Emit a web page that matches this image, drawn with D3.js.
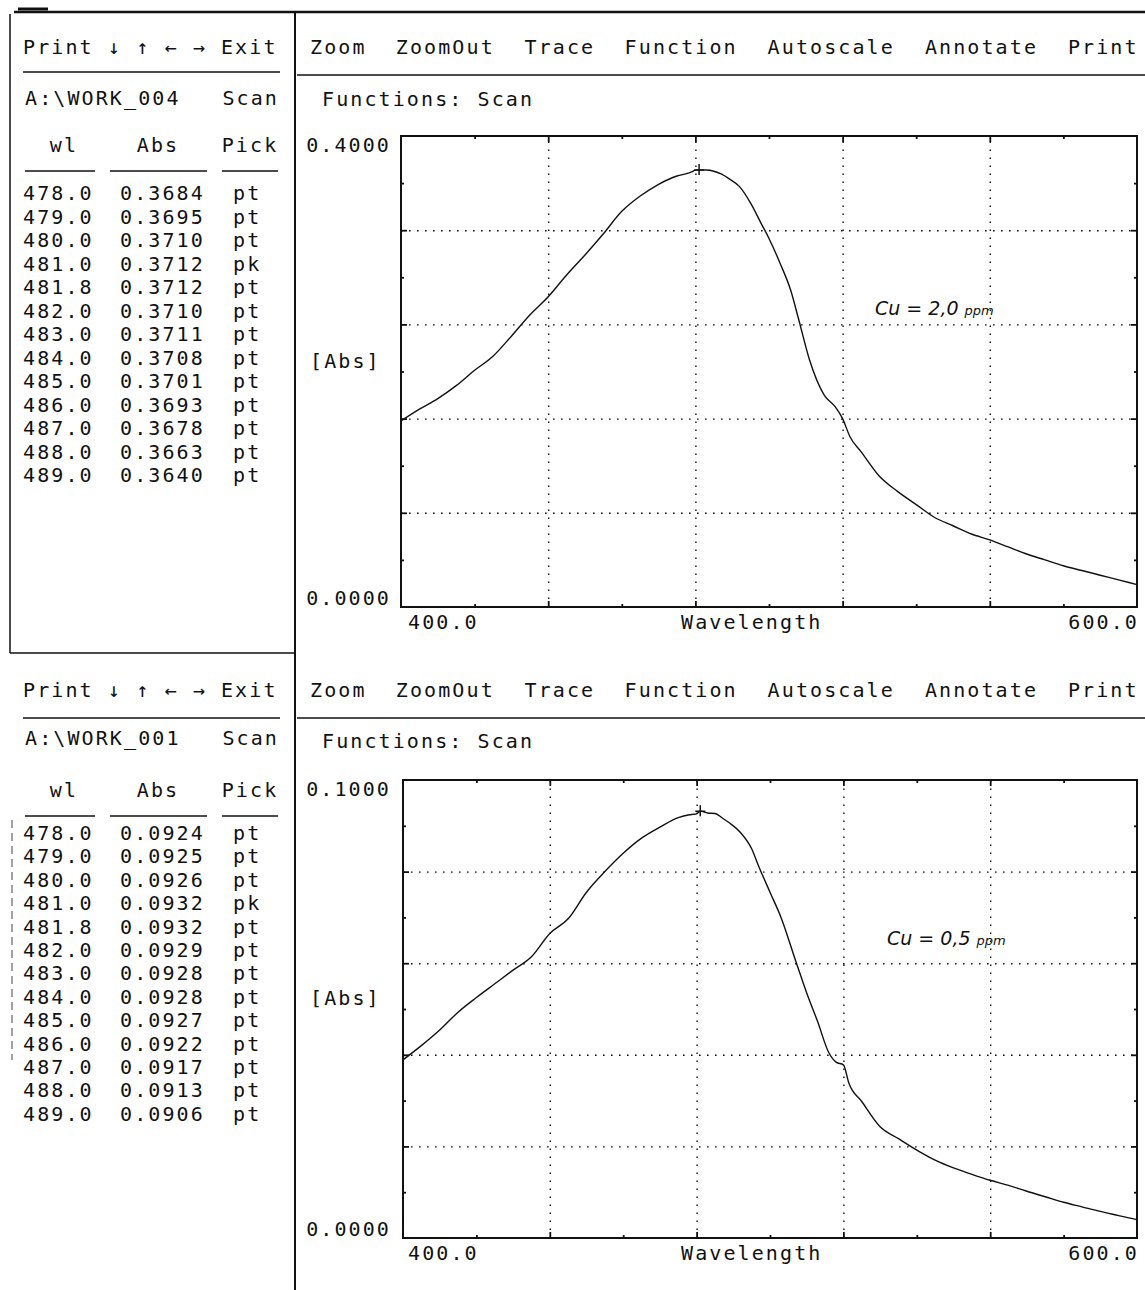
<!DOCTYPE html>
<html>
<head>
<meta charset="utf-8">
<script src="https://cdn.jsdelivr.net/npm/d3@7"></script>
<style>
  html, body { margin: 0; padding: 0; background: #fff; }
  svg { display: block; }
  text { font-family: "DejaVu Sans Mono", "Liberation Mono", monospace; fill: #111; white-space: pre; }
</style>
</head>
<body>
<svg id="chart" width="1145" height="1290"></svg>
<script>
// ---------- DATA ----------
const menuItems = ["Zoom", "ZoomOut", "Trace", "Function", "Autoscale", "Annotate", "Print"];
const navLabel = "Print ↓ ↑ ← → Exit";
const fileTop = "A:\\WORK_004";
const fileBottom = "A:\\WORK_001";
const tableHeaders = ["wl", "Abs", "Pick"];
const tableWl = ["478.0", "479.0", "480.0", "481.0", "481.8", "482.0", "483.0", "484.0", "485.0", "486.0", "487.0", "488.0", "489.0"];
const tableAbsTop = ["0.3684", "0.3695", "0.3710", "0.3712", "0.3712", "0.3710", "0.3711", "0.3708", "0.3701", "0.3693", "0.3678", "0.3663", "0.3640"];
const tableAbsBottom = ["0.0924", "0.0925", "0.0926", "0.0932", "0.0932", "0.0929", "0.0928", "0.0928", "0.0927", "0.0922", "0.0917", "0.0913", "0.0906"];
const tablePick = ["pt", "pt", "pt", "pk", "pt", "pt", "pt", "pt", "pt", "pt", "pt", "pt", "pt"];

const xDomain = [400, 600];
const xTickLabels = ["400.0", "600.0"];
const yMaxTop = 0.4, yMaxBottom = 0.1;
const yTickLabelsTop = ["0.4000", "0.0000"];
const yTickLabelsBottom = ["0.1000", "0.0000"];

// Cu = 2,0 ppm scan
const wlTop =  [400, 405, 410, 415, 420, 425, 430, 435, 440, 445, 450, 455, 460, 465, 470, 475, 478, 479, 480, 481, 483, 485, 487, 489, 492, 495, 498, 500, 503, 506, 508, 511, 515, 518, 520, 522, 525, 530, 535, 540, 545, 550, 555, 560, 565, 570, 575, 580, 585, 590, 595, 600];
const absTop = [0.158, 0.168, 0.177, 0.188, 0.201, 0.213, 0.230, 0.248, 0.2635, 0.282, 0.299, 0.317, 0.336, 0.349, 0.359, 0.366, 0.3684, 0.3695, 0.3710, 0.3712, 0.3711, 0.3701, 0.3678, 0.3640, 0.357, 0.343, 0.325, 0.313, 0.292, 0.268, 0.245, 0.210, 0.180, 0.170, 0.160, 0.1446, 0.132, 0.111, 0.098, 0.087, 0.076, 0.069, 0.062, 0.057, 0.051, 0.045, 0.040, 0.035, 0.031, 0.027, 0.023, 0.019];

// Cu = 0,5 ppm scan
const wlBottom =  [400, 405, 410, 415, 420, 425, 430, 435, 440, 445, 450, 455, 460, 465, 470, 475, 478, 479, 480, 481, 483, 485, 487, 489, 492, 495, 497, 500, 503, 507, 510, 513, 516, 518, 520, 521.5, 525, 530, 535, 540, 545, 550, 555, 560, 565, 570, 575, 580, 585, 590, 595, 600];
const absBottom = [0.0389, 0.0420, 0.0454, 0.0493, 0.0525, 0.0555, 0.0585, 0.0614, 0.0665, 0.0697, 0.0755, 0.0800, 0.0840, 0.0873, 0.0897, 0.0918, 0.0924, 0.0925, 0.0926, 0.0932, 0.0928, 0.0927, 0.0917, 0.0906, 0.0885, 0.0850, 0.0810, 0.0755, 0.0700, 0.0605, 0.0535, 0.0472, 0.0405, 0.0384, 0.0378, 0.0338, 0.0298, 0.0243, 0.0217, 0.0192, 0.0170, 0.0153, 0.0139, 0.0126, 0.0115, 0.0102, 0.0090, 0.0078, 0.0068, 0.0058, 0.0049, 0.0040];

const peakTop = {wl: 481.0, abs: 0.3712};
const peakBottom = {wl: 481.0, abs: 0.0932};
const noteTop = ["Cu = 2,0", "ppm"];
const noteBottom = ["Cu = 0,5", "ppm"];

// ---------- DRAW ----------
const svg = d3.select("#chart");
svg.append("rect").attr("width", 1145).attr("height", 1290).attr("fill", "#fff");

const FS = 20, LS = 2.1;
function txt(g, s, x, y, anchor, extra) {
  const t = g.append("text").attr("x", x).attr("y", y)
    .attr("font-size", FS).attr("letter-spacing", LS)
    .attr("text-anchor", anchor || "start").text(s);
  if (extra) extra(t);
  return t;
}
function hline(g, x1, x2, y, w) {
  g.append("line").attr("x1", x1).attr("x2", x2).attr("y1", y).attr("y2", y)
    .attr("stroke", "#111").attr("stroke-width", w || 1.5);
}

// outer frame lines
const frame = svg.append("g");
hline(frame, 14, 1145, 12, 2.5);
frame.append("line").attr("x1", 18).attr("x2", 48).attr("y1", 9).attr("y2", 9).attr("stroke", "#111").attr("stroke-width", 3);
frame.append("line").attr("x1", 10).attr("x2", 10).attr("y1", 14).attr("y2", 653).attr("stroke", "#111").attr("stroke-width", 1.5);
hline(frame, 10, 295, 653, 1.5);
frame.append("line").attr("x1", 295).attr("x2", 295).attr("y1", 12).attr("y2", 1290).attr("stroke", "#111").attr("stroke-width", 2);
frame.append("line").attr("x1", 12).attr("x2", 12).attr("y1", 820).attr("y2", 1060)
  .attr("stroke", "#444").attr("stroke-width", 1).attr("stroke-dasharray", "8,5");

function drawPanel(cfg) {
  const g = svg.append("g");
  const o = cfg.oy; // vertical offset

  // ----- left table -----
  txt(g, navLabel, 23, o + 54);
  hline(g, 23, 280, o + cfg.sep1, 1.5);
  txt(g, cfg.file, 25, o + cfg.fileY);
  txt(g, "Scan", 279, o + cfg.fileY, "end");
  const hx = [64, 158, 250];
  tableHeaders.forEach((h, i) => txt(g, h, hx[i], o + cfg.headY, "middle"));
  [[25, 95], [110, 207], [222, 278]].forEach(s => hline(g, s[0], s[1], o + cfg.headY + 19, 1.5));
  const rowY = d3.scaleLinear().domain([0, 1]).range([o + cfg.row0, o + cfg.row0 + cfg.rowStep]);
  tableWl.forEach((w, i) => {
    txt(g, w, 23, rowY(i));
    txt(g, cfg.absVals[i], 120, rowY(i));
    txt(g, tablePick[i], 233, rowY(i));
  });

  // ----- right header -----
  let col = 0;
  const menuX = d3.scaleLinear().domain([0, 1]).range([310, 310 + 14.3]);
  menuItems.forEach(m => { txt(g, m, menuX(col), o + 54); col += m.length + 2; });
  hline(g, 297, 1145, o + cfg.sep2, 1.5);
  txt(g, "Functions: Scan", 322, o + cfg.funcY);

  // ----- plot -----
  const L = cfg.left, R = 1137, T = o + cfg.top, B = o + cfg.bottom;
  const x = d3.scaleLinear().domain(xDomain).range([L, R]);
  const y = d3.scaleLinear().domain([0, cfg.yMax]).range([B, T]);
  const major = d3.range(1, 5).map(i => cfg.yMax * i / 5);
  const minor = d3.range(0, 5).map(i => cfg.yMax * (i + 0.5) / 5);
  const xMajor = [440, 480, 520, 560];
  const xMinor = [420, 460, 500, 540, 580];

  // grid
  g.append("g").attr("transform", `translate(0,${B})`)
    .call(d3.axisBottom(x).tickValues(xMajor).tickSize(-(B - T)).tickFormat(""))
    .call(a => a.select(".domain").remove())
    .selectAll("line").attr("stroke", "#111").attr("stroke-width", 1.4).attr("stroke-dasharray", "1.6,6.4");
  g.append("g").attr("transform", `translate(${L},0)`)
    .call(d3.axisLeft(y).tickValues(major).tickSize(-(R - L)).tickFormat(""))
    .call(a => a.select(".domain").remove())
    .selectAll("line").attr("stroke", "#111").attr("stroke-width", 1.4).attr("stroke-dasharray", "1.6,6.4");

  // inner ticks
  const tick = (axis, tr, vals, size) => g.append("g").attr("transform", tr)
    .call(axis.tickValues(vals).tickSize(size).tickFormat(""))
    .call(a => a.select(".domain").remove())
    .selectAll("line").attr("stroke", "#111").attr("stroke-width", 1.8);
  tick(d3.axisLeft(y), `translate(${L},0)`, major, -6);
  tick(d3.axisLeft(y), `translate(${L},0)`, minor, -3);
  tick(d3.axisRight(y), `translate(${R},0)`, major, -6);
  tick(d3.axisRight(y), `translate(${R},0)`, minor, -3);
  tick(d3.axisBottom(x), `translate(0,${B})`, xMajor, -6);
  tick(d3.axisBottom(x), `translate(0,${B})`, xMinor, -3);
  tick(d3.axisTop(x), `translate(0,${T})`, xMajor, -6);
  tick(d3.axisTop(x), `translate(0,${T})`, xMinor, -3);

  // frame
  g.append("rect").attr("x", L).attr("y", T).attr("width", R - L).attr("height", B - T)
    .attr("fill", "none").attr("stroke", "#111").attr("stroke-width", 2);

  // curve
  const pts = cfg.wl.map((w, i) => [w, cfg.abs[i]]);
  g.append("path").datum(pts)
    .attr("d", d3.line().x(d => x(d[0])).y(d => y(d[1])).curve(d3.curveMonotoneX))
    .attr("fill", "none").attr("stroke", "#111").attr("stroke-width", 1.4);

  // peak marker
  const px = x(cfg.peak.wl), py = y(cfg.peak.abs);
  g.append("path").attr("d", `M${px - 5},${py}H${px + 5}M${px},${py - 6}V${py + 5}`)
    .attr("stroke", "#111").attr("stroke-width", 1.5);

  // axis labels
  txt(g, cfg.yLabels[0], 391, T + 16, "end");
  txt(g, cfg.yLabels[1], 391, B - 2, "end");
  txt(g, "[Abs]", 310, (T + B) / 2 - 4);
  txt(g, xTickLabels[0], 408, B + 22);
  txt(g, "Wavelength", 681, B + 22);
  txt(g, xTickLabels[1], 1139, B + 22, "end");

  // handwritten note
  const n = g.append("text").attr("x", cfg.noteX).attr("y", o + cfg.noteY)
    .attr("font-family", "DejaVu Sans").attr("font-style", "italic").attr("font-size", 19)
    .style("font-family", "'DejaVu Sans', sans-serif");
  n.append("tspan").text(cfg.note[0] + " ");
  n.append("tspan").attr("font-size", 13).text(cfg.note[1]);
}

drawPanel({
  oy: 0, file: fileTop, absVals: tableAbsTop,
  sep1: 72, fileY: 105, headY: 152, row0: 200, rowStep: 23.5,
  sep2: 75, funcY: 106,
  left: 401, top: 136, bottom: 607, yMax: yMaxTop, yLabels: yTickLabelsTop,
  wl: wlTop, abs: absTop, peak: peakTop,
  note: noteTop, noteX: 875, noteY: 315
});
drawPanel({
  oy: 643, file: fileBottom, absVals: tableAbsBottom,
  sep1: 75, fileY: 102, headY: 154, row0: 197, rowStep: 23.4,
  sep2: 75, funcY: 105,
  left: 403, top: 137, bottom: 595, yMax: yMaxBottom, yLabels: yTickLabelsBottom,
  wl: wlBottom, abs: absBottom, peak: peakBottom,
  note: noteBottom, noteX: 887, noteY: 302
});
</script>
</body>
</html>
